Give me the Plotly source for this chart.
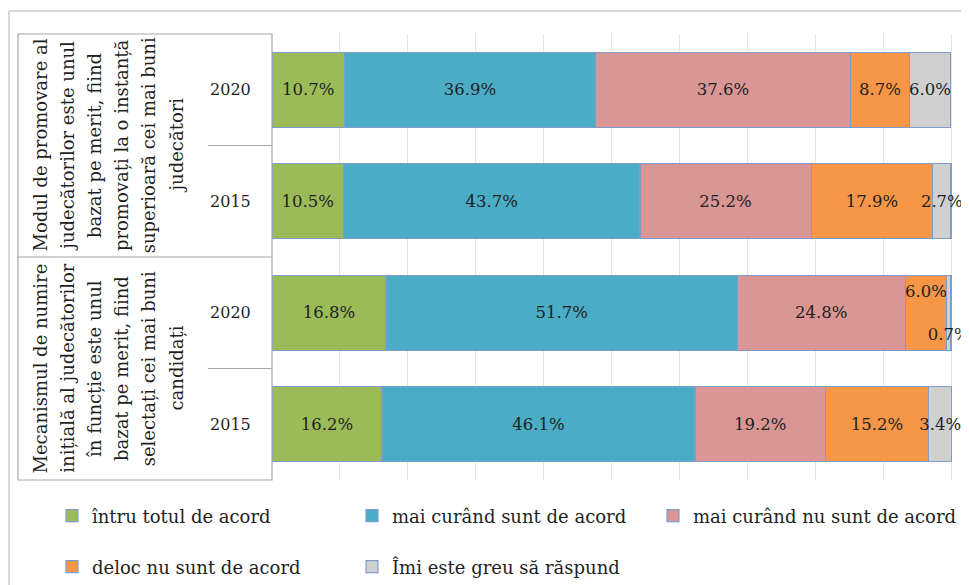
import plotly.graph_objects as go

# ---------------- data ----------------
row_keys = ["P2020", "P2015", "N2020", "N2015"]
year_labels = ["2020", "2015", "2020", "2015"]
group_lines = [
    ["Modul de promovare al", "judecătorilor este unul", "bazat pe merit, fiind",
     "promovați la o instanță", "superioară cei mai buni", "judecători"],
    ["Mecanismul de numire", "inițială al judecătorilor", "în funcție este unul",
     "bazat pe merit, fiind", "selectați cei mai buni", "candidați"],
]
series_names = ["întru totul de acord", "mai curând sunt de acord",
                "mai curând nu sunt de acord", "deloc nu sunt de acord",
                "Îmi este greu să răspund"]
s_total_acord = [10.7, 10.5, 16.8, 16.2]
s_mai_curand_acord = [36.9, 43.7, 51.7, 46.1]
s_mai_curand_nu = [37.6, 25.2, 24.8, 19.2]
s_deloc = [8.7, 17.9, 6.0, 15.2]
s_greu = [6.0, 2.7, 0.7, 3.4]
series_values = [s_total_acord, s_mai_curand_acord, s_mai_curand_nu, s_deloc, s_greu]

# ---------------- style / geometry ----------------
colors = ["#9bbb59", "#4bacc6", "#d99694", "#f79646", "#d0d0d0"]
FONT = "DejaVu Serif"
TXT = "#1f1f1f"
OFF = 8                      # page body margin
WIN_W, WIN_H = 969, 585
W, H = WIN_W - OFF, WIN_H - OFF
X0, X1, Y0, Y1 = 272, 969, 34, 480      # plot area in window pixels
PX_PER_UNIT = 6.79
L, R = X0 - OFF, (WIN_W) - X1
T, B = Y0 - OFF, H - (Y1 - OFF)
PW, PH = X1 - X0, Y1 - Y0


def px(x):
    return (x - X0) / PW


def py(y):
    return 1 - (y - Y0) / PH


fig = go.Figure()
legend_ids = ["legend", "legend2", "legend3", "legend4", "legend5"]
for i, (name, vals, col) in enumerate(zip(series_names, series_values, colors)):
    texts = [f"{v:.1f}%" for v in vals]
    if i == 3:
        texts[2] = texts[2] + "<br>\u00a0<br>\u00a0"
    if i == 4:
        texts[2] = "\u00a0<br>\u00a0<br>" + texts[2]
    fig.add_trace(go.Bar(
        y=row_keys, x=vals, name=name, orientation="h",
        marker=dict(color=col, line=dict(color="#7f9dcc", width=1.2)),
        text=texts, textposition="inside", textangle=0, constraintext="none",
        insidetextanchor="middle",
        textfont=dict(family=FONT, size=16.5, color=TXT),
        legend=legend_ids[i], hoverinfo="skip",
    ))

shapes = []
line_col = "#a6a6a6"
# outer frame (left + top)
shapes.append(dict(type="line", xref="paper", yref="paper", x0=px(9), x1=px(969),
                   y0=py(11), y1=py(11), line=dict(color="#d9d9d9", width=2)))
shapes.append(dict(type="line", xref="paper", yref="paper", x0=px(9), x1=px(9),
                   y0=py(11), y1=py(585), line=dict(color="#d9d9d9", width=2)))
# table box
shapes.append(dict(type="rect", xref="paper", yref="paper", x0=px(18), x1=0,
                   y0=0, y1=1, line=dict(color=line_col, width=1.2)))
shapes.append(dict(type="line", xref="paper", yref="paper", x0=px(18), x1=0,
                   y0=0.5, y1=0.5, line=dict(color=line_col, width=1.2)))
for yy in (0.75, 0.25):
    shapes.append(dict(type="line", xref="paper", yref="paper", x0=px(208), x1=0,
                       y0=yy, y1=yy, line=dict(color=line_col, width=1.2)))

annotations = []
line_x0, line_dx = 40, 27.2
for g, lines in enumerate(group_lines):
    yc = 0.75 if g == 0 else 0.25
    for k, t in enumerate(lines):
        annotations.append(dict(
            xref="paper", yref="paper", x=px(line_x0 + k * line_dx), y=yc,
            text=t, showarrow=False, textangle=-90, xanchor="center", yanchor="middle",
            font=dict(family=FONT, size=18, color=TXT)))

legend_pos = [(52, 516), (352, 516), (653, 516), (52, 567), (352, 567)]
legend_layout = {}
for lid, (lx, ly) in zip(legend_ids, legend_pos):
    legend_layout[lid] = dict(
        x=px(lx), y=py(ly), xanchor="left", yanchor="middle", orientation="h",
        font=dict(family=FONT, size=18, color=TXT), bgcolor="rgba(0,0,0,0)",
        itemwidth=30)

fig.update_layout(
    width=W, height=H, margin=dict(l=L, r=R, t=T, b=B, pad=0, autoexpand=False),
    barmode="stack", bargap=0.327,
    paper_bgcolor="white", plot_bgcolor="white",
    showlegend=True,
    xaxis=dict(range=[0, PW / PX_PER_UNIT], tick0=0, dtick=10, showgrid=True,
               gridcolor="#e3e3e3", gridwidth=1,
               zeroline=False, showticklabels=False, showline=False, fixedrange=True),
    yaxis=dict(categoryorder="array", categoryarray=row_keys, autorange="reversed",
               tickvals=row_keys, ticktext=year_labels, showgrid=False, zeroline=False,
               ticks="outside", ticklen=17, tickcolor="rgba(0,0,0,0)",
               tickfont=dict(family=FONT, size=16, color=TXT), showline=False),
    shapes=shapes, annotations=annotations,
    **legend_layout,
)

fig.write_html("out.html")
